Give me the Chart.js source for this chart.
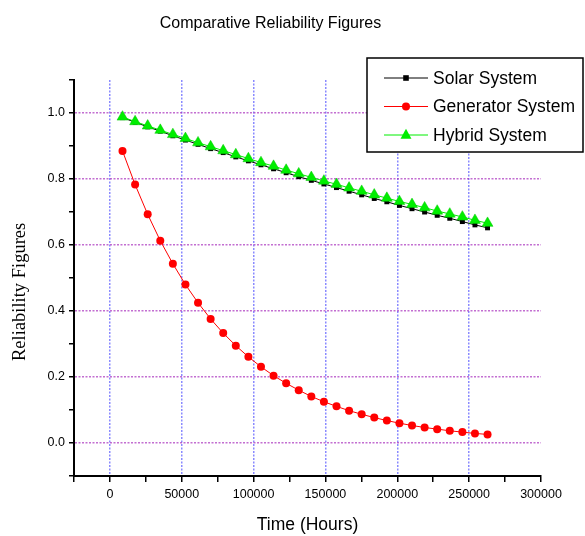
<!DOCTYPE html>
<html>
<head>
<meta charset="utf-8">
<script src="https://cdn.jsdelivr.net/npm/chart.js@4.4.1/dist/chart.umd.min.js"></script>
<style>
  html, body { margin: 0; padding: 0; background: #fff; }
  #wrap { width: 585px; height: 536px; position: relative; }
</style>
</head>
<body>
<div id="wrap"><canvas id="relChart"></canvas></div>
<script>
// time in hours (one point per year, 30 years)
const hours = [8760, 17520, 26280, 35040, 43800, 52560, 61320, 70080, 78840, 87600,
  96360, 105120, 113880, 122640, 131400, 140160, 148920, 157680, 166440, 175200,
  183960, 192720, 201480, 210240, 219000, 227760, 236520, 245280, 254040, 262800];

const solar = [0.986, 0.972, 0.958, 0.945, 0.931, 0.918, 0.905, 0.892, 0.880, 0.867,
  0.855, 0.843, 0.831, 0.819, 0.807, 0.796, 0.785, 0.774, 0.763, 0.752,
  0.741, 0.731, 0.720, 0.710, 0.700, 0.690, 0.681, 0.671, 0.661, 0.652];

const generator = [0.885, 0.783, 0.693, 0.613, 0.543, 0.480, 0.425, 0.376, 0.333, 0.295,
  0.261, 0.231, 0.204, 0.181, 0.160, 0.141, 0.125, 0.111, 0.098, 0.087,
  0.077, 0.068, 0.060, 0.053, 0.047, 0.042, 0.037, 0.033, 0.029, 0.026];

const hybrid = [0.988, 0.974, 0.961, 0.948, 0.935, 0.923, 0.910, 0.898, 0.886, 0.874,
  0.862, 0.850, 0.839, 0.827, 0.816, 0.805, 0.794, 0.784, 0.773, 0.763,
  0.752, 0.742, 0.732, 0.723, 0.713, 0.703, 0.694, 0.685, 0.675, 0.666];

const seriesNames = ['Solar System', 'Generator System', 'Hybrid System'];

function toPoints(vals) {
  return hours.map((h, i) => ({ x: h, y: vals[i] }));
}

// legend with a line + marker sample, like the original
const lineLegend = {
  id: 'lineLegend',
  afterDraw(chart) {
    const { ctx, chartArea } = chart;
    const boxW = 216, boxH = 94;
    const x0 = chart.width - boxW - 2;
    const y0 = chartArea.top - 22;
    ctx.save();
    ctx.fillStyle = '#fff';
    ctx.fillRect(x0, y0, boxW, boxH);
    ctx.strokeStyle = '#000';
    ctx.lineWidth = 1.5;
    ctx.strokeRect(x0, y0, boxW, boxH);
    chart.data.datasets.forEach((ds, i) => {
      const cy = y0 + 20 + i * 28.5;
      const lx = x0 + 17;
      const mx = lx + 22;
      ctx.strokeStyle = ds.borderColor;
      ctx.lineWidth = 1;
      ctx.beginPath();
      ctx.moveTo(lx, cy);
      ctx.lineTo(lx + 44, cy);
      ctx.stroke();
      ctx.fillStyle = ds.pointBackgroundColor;
      const r = ds.pointRadius;
      ctx.beginPath();
      if (ds.pointStyle === 'rect') {
        ctx.rect(mx - r * 0.8, cy - r * 0.8, r * 1.6, r * 1.6);
      } else if (ds.pointStyle === 'triangle') {
        ctx.moveTo(mx, cy - r);
        ctx.lineTo(mx + r * 0.87, cy + r * 0.6);
        ctx.lineTo(mx - r * 0.87, cy + r * 0.6);
        ctx.closePath();
      } else {
        ctx.arc(mx, cy, r, 0, Math.PI * 2);
      }
      ctx.fill();
      ctx.fillStyle = '#000';
      ctx.font = '17.5px "Liberation Sans", Arial, sans-serif';
      ctx.textBaseline = 'middle';
      ctx.textAlign = 'left';
      ctx.fillText(ds.label, x0 + 66, cy + 1);
    });
    ctx.restore();
  }
};

window.addEventListener('DOMContentLoaded', () => {
  const tickFont = { family: '"Liberation Sans", Arial, sans-serif', size: 12.5 };

  new Chart(document.getElementById('relChart').getContext('2d'), {
    type: 'line',
    data: {
      datasets: [{
        label: seriesNames[0],
        data: toPoints(solar),
        borderColor: '#000',
        borderWidth: 1,
        pointStyle: 'rect',
        pointRadius: 3.5,
        pointBackgroundColor: '#000',
        pointBorderColor: '#000',
        pointBorderWidth: 0,
        order: 3
      }, {
        label: seriesNames[1],
        data: toPoints(generator),
        borderColor: '#ff0000',
        borderWidth: 1,
        pointStyle: 'circle',
        pointRadius: 4,
        pointBackgroundColor: '#ff0000',
        pointBorderColor: '#ff0000',
        pointBorderWidth: 0,
        order: 2
      }, {
        label: seriesNames[2],
        data: toPoints(hybrid),
        borderColor: '#00ee00',
        borderWidth: 1,
        pointStyle: 'triangle',
        pointRadius: 6.3,
        pointBackgroundColor: '#00ee00',
        pointBorderColor: '#00c800',
        pointBorderWidth: 0.5,
        order: 1
      }]
    },
    options: {
      responsive: true,
      maintainAspectRatio: false,
      animation: false,
      layout: { padding: { left: 0, right: 44, top: 0, bottom: 0 } },
      plugins: {
        legend: { display: false },
        tooltip: { enabled: false },
        title: {
          display: true,
          text: 'Comparative Reliability Figures',
          color: '#000',
          font: { family: '"Liberation Sans", Arial, sans-serif', size: 16, weight: 'normal' },
          padding: { top: 14, bottom: 46.8 }
        }
      },
      scales: {
        x: {
          type: 'linear',
          min: -25000,
          max: 300000,
          afterFit(scale) { scale.height = 60; },
          ticks: {
            stepSize: 25000,
            autoSkip: false,
            maxRotation: 0,
            padding: 5,
            color: '#000',
            font: tickFont,
            callback: v => (v >= 0 && v % 50000 === 0) ? String(v) : ''
          },
          grid: {
            color: c => (c.tick && c.tick.value >= 0 && c.tick.value <= 250000 && c.tick.value % 50000 === 0) ? 'rgba(60,60,255,0.6)' : 'rgba(0,0,0,0)',
            lineWidth: 1.5,
            tickColor: '#000',
            tickLength: 6,
            tickWidth: 1.5
          },
          border: { color: '#000', width: 2, dash: c => c.type === 'tick' ? [2, 1.5] : [] },
          title: {
            display: true,
            text: 'Time (Hours)',
            color: '#000',
            font: { family: '"Liberation Sans", Arial, sans-serif', size: 17.5 },
            padding: { top: 0, bottom: 0 }
          }
        },
        y: {
          type: 'linear',
          min: -0.1,
          max: 1.1,
          afterFit(scale) { scale.width = 74; },
          ticks: {
            stepSize: 0.1,
            autoSkip: false,
            padding: 4,
            color: '#000',
            font: tickFont,
            callback: v => (Math.round(v * 10) % 2 === 0) ? v.toFixed(1) : ''
          },
          grid: {
            color: c => (c.tick && c.tick.value > -0.05 && c.tick.value < 1.05 && Math.round(c.tick.value * 10) % 2 === 0) ? 'rgba(170,50,190,0.7)' : 'rgba(0,0,0,0)',
            lineWidth: 1.5,
            tickColor: '#000',
            tickLength: 5,
            tickWidth: 1.5
          },
          border: { color: '#000', width: 2, dash: c => c.type === 'tick' ? [2, 1.5] : [] },
          title: {
            display: true,
            text: 'Reliability Figures\u00a0\u00a0\u00a0\u00a0\u00a0\u00a0',
            color: '#000',
            font: { family: '"Liberation Serif", "Times New Roman", serif', size: 18.5 },
            padding: { top: 9, bottom: 0 }
          }
        }
      }
    },
    plugins: [lineLegend]
  });
});
</script>
</body>
</html>
